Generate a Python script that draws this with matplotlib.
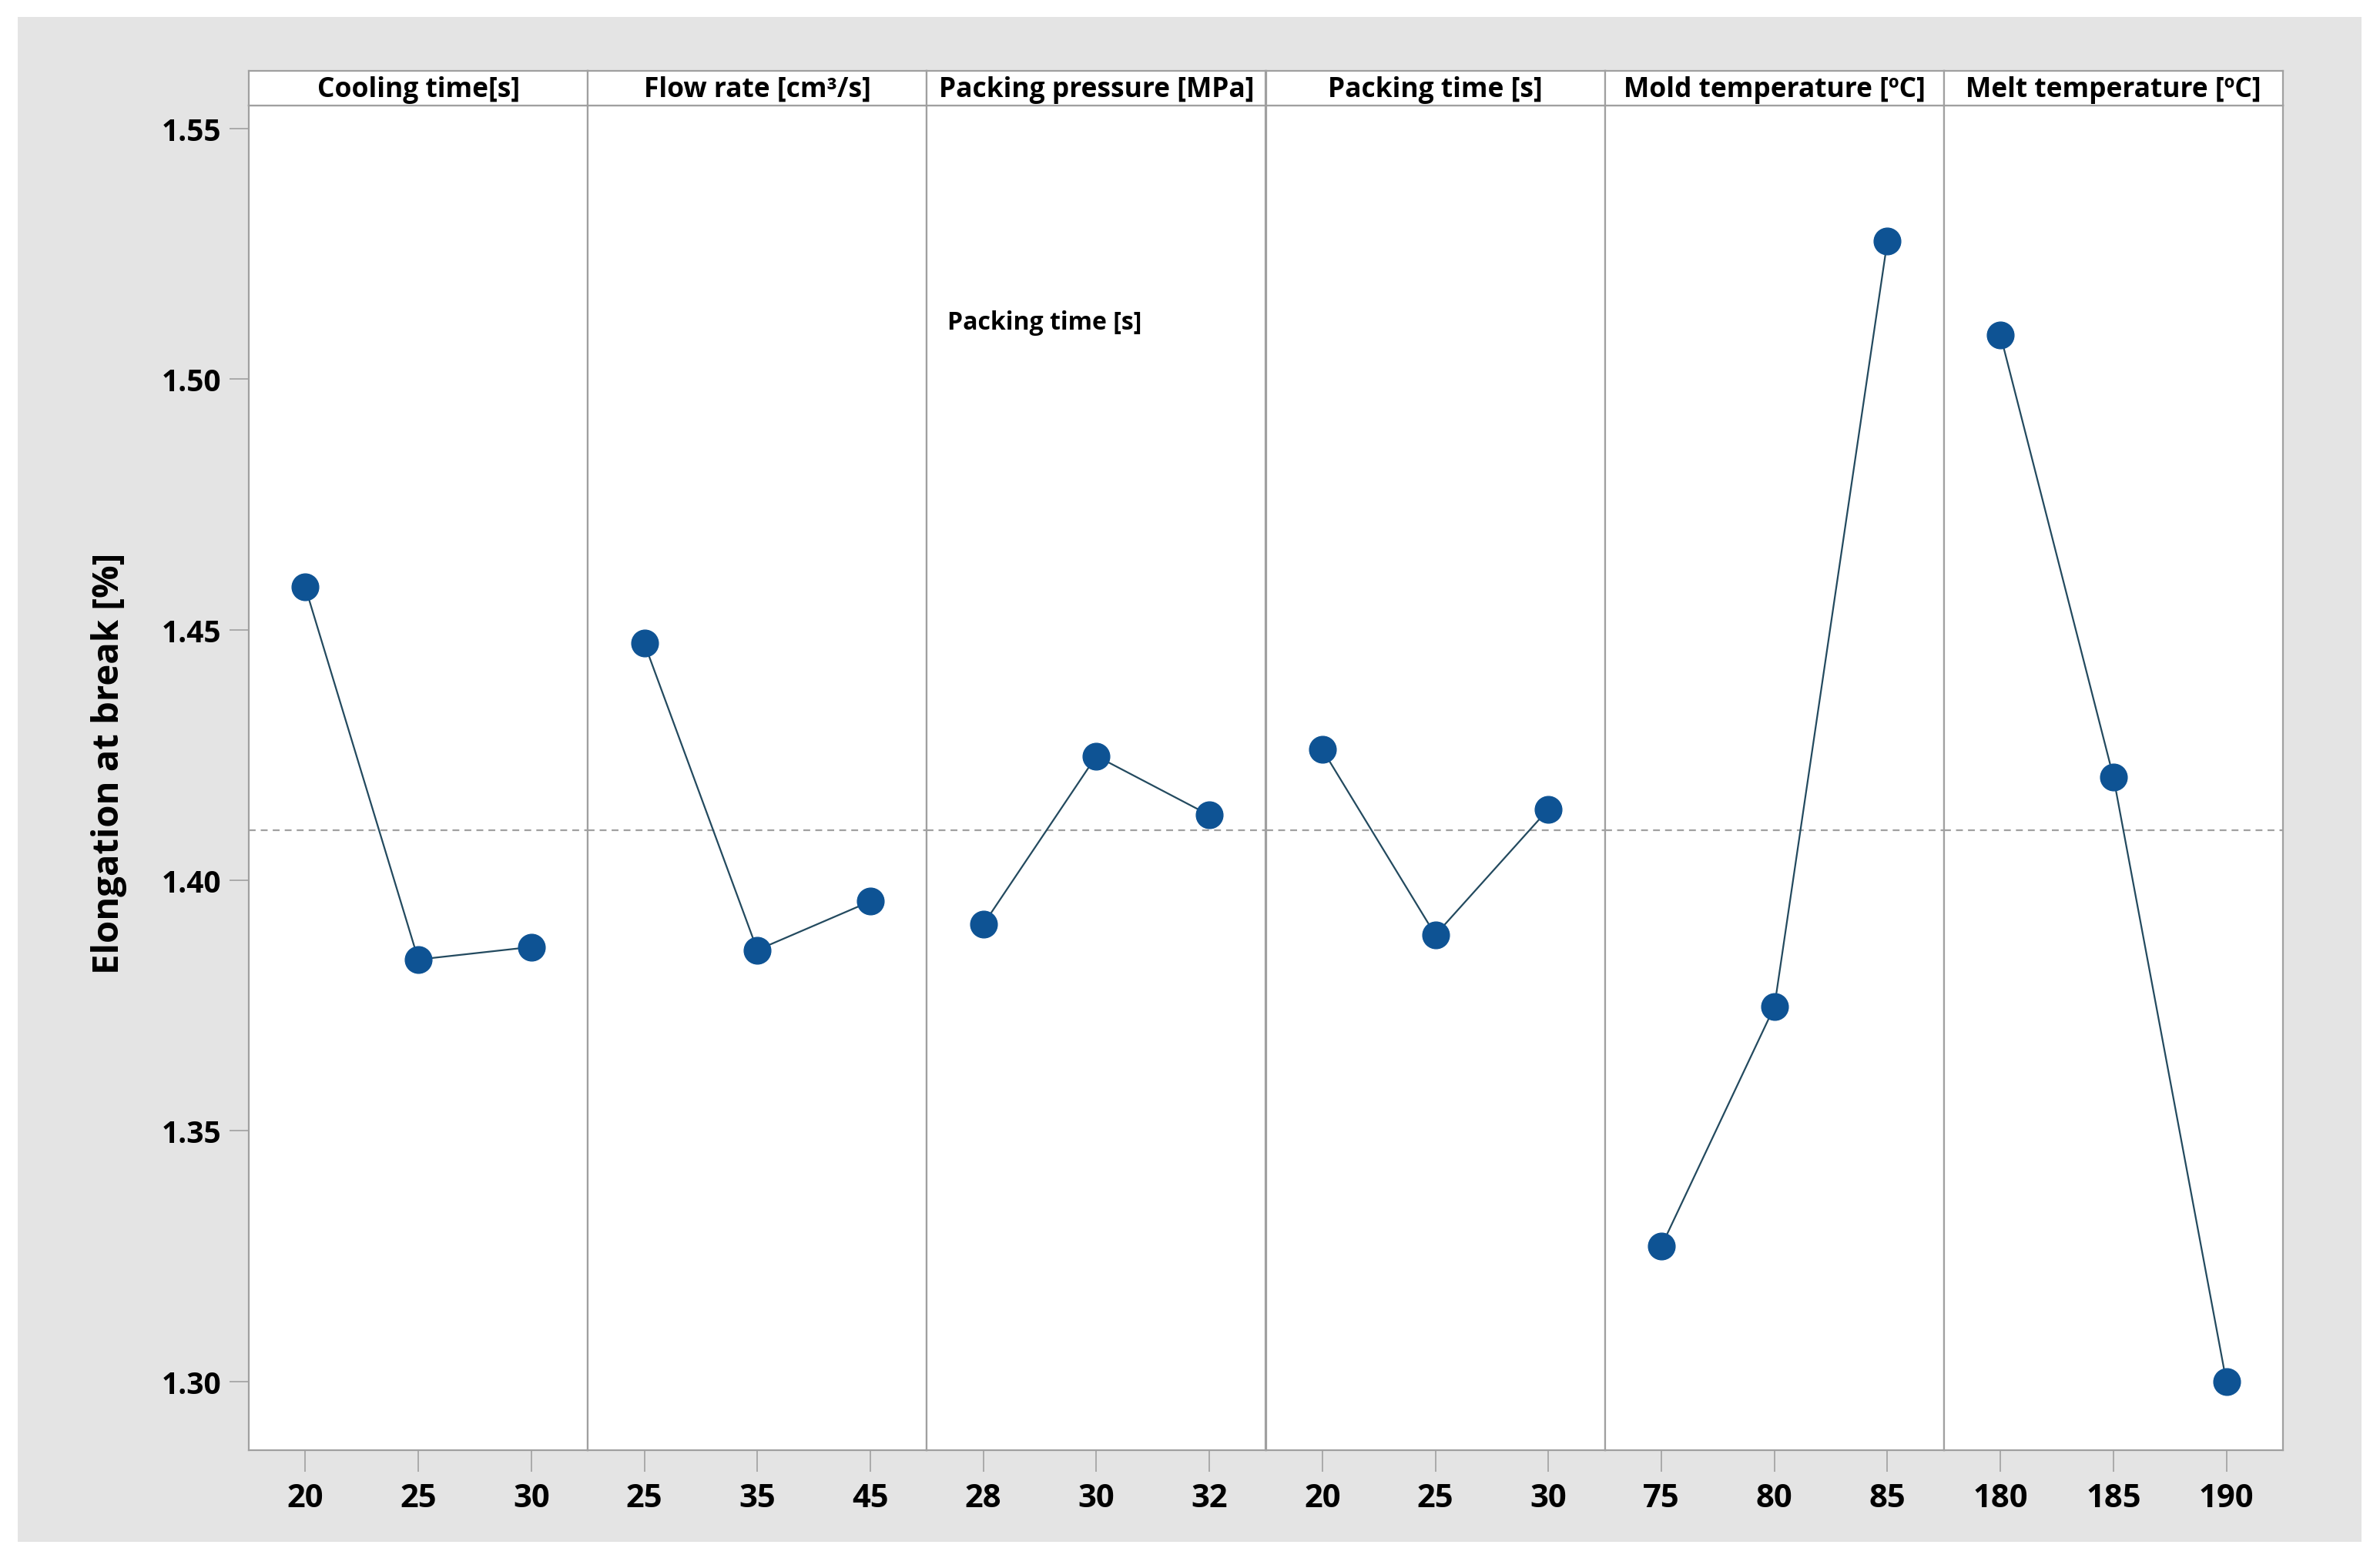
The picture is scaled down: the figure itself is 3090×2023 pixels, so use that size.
import matplotlib.pyplot as plt
import matplotlib.patches as patches
import numpy as np

# factors and their levels
factors = ["Cooling time[s]", "Flow rate [cm³/s]", "Packing pressure [MPa]",
           "Packing time [s]", "Mold temperature [ºC]", "Melt temperature [ºC]"]
levels = [["20", "25", "30"], ["25", "35", "45"], ["28", "30", "32"],
          ["20", "25", "30"], ["75", "80", "85"], ["180", "185", "190"]]

# mean elongation at break [%] per level
cooling = [1.4585, 1.3842, 1.3867]
flow = [1.4473, 1.3861, 1.3958]
pack_press = [1.3912, 1.4248, 1.4130]
pack_time = [1.4261, 1.3891, 1.4142]
mold_temp = [1.3270, 1.3748, 1.5276]
melt_temp = [1.5088, 1.4206, 1.2999]
means = [cooling, flow, pack_press, pack_time, mold_temp, melt_temp]

grand_mean = 1.410
yticks = [1.30, 1.35, 1.40, 1.45, 1.50, 1.55]

W, H = 3090, 2024
fig = plt.figure(figsize=(W / 100, H / 100), dpi=100)
fig.patch.set_facecolor("white")
fig.patches.append(patches.Rectangle((23 / W, 1 - 2003 / H), (3066 - 23) / W, (2003 - 23) / H,
                                     transform=fig.transFigure, facecolor="#e4e4e4",
                                     edgecolor="none", zorder=-10))

fam = ["Open Sans", "DejaVu Sans"]
edge = "#a0a0a0"
line_c = "#234a5f"
mark_c = "#0e5394"

left, right = 323 / W, 2964 / W
bottom, top = 1 - 1884 / H, 1 - 138 / H
head_top = 1 - 93 / H
pw = (right - left) / 6

for i in range(6):
    ax = fig.add_axes([left + i * pw, bottom, pw, top - bottom])
    ax.set_facecolor("white")
    x = np.arange(3)
    ax.plot(x, means[i], color=line_c, lw=1.6, marker="o", ms=25,
            mfc=mark_c, mec=mark_c, zorder=3)
    ax.axhline(grand_mean, color=edge, lw=1.6, ls=(0, (4, 3)), zorder=1)
    ax.set_xlim(-0.5, 2.5)
    ax.set_ylim(1.2863, 1.5546)
    ax.set_xticks(x)
    ax.set_xticklabels(levels[i], family=fam, weight="bold", fontsize=30)
    ax.tick_params(axis="x", length=20, color=edge, width=1.2, pad=10)
    if i == 0:
        ax.set_yticks(yticks)
        ax.set_yticklabels(["%.2f" % v for v in yticks], fontsize=28, weight="bold",
                           family=fam)
        ax.tick_params(axis="y", length=18, color=edge, width=1.2, pad=8)
    else:
        ax.set_yticks([])
    for s in ax.spines.values():
        s.set_color(edge)
        s.set_linewidth(1.6)

    # header strip
    hx = fig.add_axes([left + i * pw, top, pw, head_top - top])
    hx.set_facecolor("white")
    hx.set_xticks([])
    hx.set_yticks([])
    for s in hx.spines.values():
        s.set_color(edge)
        s.set_linewidth(1.6)
    hx.text(0.5, 0.47, factors[i], ha="center", va="center", fontsize=25.5,
            weight="bold", family=fam, transform=hx.transAxes)

fig.text(142 / W, 1 - 991 / H, "Elongation at break [%]", rotation=90, ha="center",
         va="center", fontsize=34, weight="bold", family=fam)
fig.text(1230 / W, 1 - 420 / H, "Packing time [s]", ha="left", va="center",
         fontsize=23, weight="bold", family=fam)

fig.savefig("out.png", dpi=100)
